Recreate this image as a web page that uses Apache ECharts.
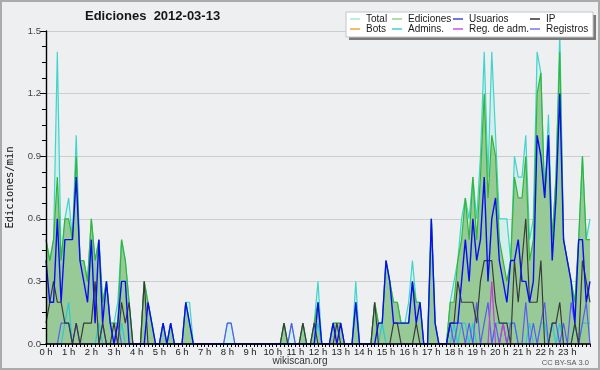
<!DOCTYPE html>
<html><head><meta charset="utf-8">
<script src="https://cdn.jsdelivr.net/npm/echarts@6/dist/echarts.min.js"></script>
<style>html,body{margin:0;padding:0;background:#eeeff1}#c{width:600px;height:370px}</style>
</head><body><div id="c"></div>
<script>
// 10-minute slots from 00:00 to 24:00 (145 points)
const hourLabels = ['0 h','1 h','2 h','3 h','4 h','5 h','6 h','7 h','8 h','9 h','10 h','11 h','12 h','13 h','14 h','15 h','16 h','17 h','18 h','19 h','20 h','21 h','22 h','23 h'];
const slots = [];
for (let h = 0; h <= 24; h++) for (let m = 0; m < 60; m += 10) { if (h === 24 && m > 0) break; slots.push((h < 10 ? '0' : '') + h + ':' + (m === 0 ? '00' : m)); }
const yTicks = [0, 0.3, 0.6, 0.9, 1.2, 1.5];

const total = [
 .5,.4,.5,1.4,.4,.6,.7,.5,1.0,.4,.4,.3,
 .6,.4,.5,.2,.3,.1,.1,.2,.5,.4,.2,0,
 0,0,.3,.2,.1,0,0,.1,0,.1,0,0,
 0,.2,.2,0,0,0,0,0,0,0,0,0,
 .1,.1,0,0,0,0,0,0,0,0,0,0,
 0,0,0,.1,0,.1,0,0,.1,0,0,.1,
 .3,0,0,0,.1,.1,.1,0,0,0,.3,0,
 0,0,0,.2,.1,.1,.4,.3,.2,.2,.1,.1,
 .2,.4,.2,.2,0,0,.6,.1,0,0,0,.2,
 .3,.4,.6,.7,.6,.8,.6,.9,1.4,.8,1.4,1.0,
 .6,.6,.6,.4,.9,.8,.8,1.0,.5,.6,1.4,1.3,
 .7,1.1,.5,.8,1.5,.5,.4,.3,.2,.5,.9,.5,
 .6];
const edits = [
 .5,.4,.5,.8,.4,.6,.6,.5,.9,.4,.4,.3,
 .6,.4,.5,.2,.3,.1,.1,.1,.5,.4,.2,0,
 0,0,.3,.2,.1,0,0,.1,0,.1,0,0,
 0,.2,.1,0,0,0,0,0,0,0,0,0,
 0,0,0,0,0,0,0,0,0,0,0,0,
 0,0,0,.1,0,0,0,0,.1,0,0,.1,
 .2,0,0,0,.1,.1,.1,0,0,0,.2,0,
 0,0,0,.2,.1,.1,.4,.3,.2,.2,.1,.1,
 .1,.3,.2,.2,0,0,.6,.1,0,0,0,.2,
 .2,.4,.5,.7,.5,.8,.5,.8,1.2,.7,1.0,.9,
 .5,.4,.3,.4,.8,.7,.7,.9,.4,.5,1.2,1.3,
 .7,1.0,.5,.8,1.4,.5,.4,.3,.2,.5,.9,.5,
 .5];
const users = [
 .4,.2,.2,.6,.2,.5,.5,.5,.8,.4,.3,.2,
 .5,.1,.5,.1,.3,.1,0,.1,.3,.3,0,0,
 0,0,0,.2,.1,0,0,.1,0,.1,0,0,
 0,.2,.1,0,0,0,0,0,0,0,0,0,
 0,0,0,0,0,0,0,0,0,0,0,0,
 0,0,0,0,0,0,0,0,0,0,0,0,
 .2,0,0,0,.1,0,.1,0,0,0,.2,0,
 0,0,0,0,.1,.1,.4,.3,.1,.1,.1,.1,
 .1,.3,.1,.2,0,0,.6,.1,0,0,0,.1,
 .1,.1,.3,.5,.3,.6,.4,.5,.8,.3,.6,.7,
 .4,.3,.2,.4,.4,.5,.3,.3,.2,.3,1.0,.9,
 .7,1.0,.4,.7,1.2,.5,.4,.3,.1,.5,.5,.2,
 .3];
const ip = [
 .1,.2,.3,.2,.2,.1,.1,0,.1,0,.1,.1,
 .1,.3,0,.1,0,0,.1,0,.2,.1,.2,0,
 0,0,.3,0,0,0,0,0,0,0,0,0,
 0,0,0,0,0,0,0,0,0,0,0,0,
 0,0,0,0,0,0,0,0,0,0,0,0,
 0,0,0,.1,0,0,0,0,.1,0,0,.1,
 0,0,0,0,0,.1,0,0,0,0,0,0,
 0,0,0,.2,0,0,0,0,.1,.1,0,0,
 0,0,.1,0,0,0,0,0,0,0,0,.1,
 .1,.3,.2,.2,.2,.2,.1,.3,.4,.4,.4,.2,
 .1,.1,.1,0,.4,.2,.4,.6,.2,.2,.2,.4,
 0,0,.1,.1,.2,0,0,0,.1,0,.4,.3,
 .2];
const bots = [
 0,0,0,0,0,0,0,0,0,0,0,0, 0,0,0,0,0,0,0,0,0,0,0,0,
 0,0,0,0,0,0,0,0,0,0,0,0, 0,0,0,0,0,0,0,0,0,0,0,0,
 0,0,0,0,0,0,0,0,0,0,0,0, 0,0,0,0,0,0,0,0,0,0,0,0,
 0,0,0,0,0,0,0,0,0,0,0,0, 0,0,0,0,0,0,0,0,0,0,0,0,
 0,0,0,0,0,0,0,0,0,0,0,0, 0,0,0,0,0,0,0,0,0,0,0,0,
 0,0,0,0,0,0,0,0,0,0,0,0, 0,0,0,0,0,0,0,0,0,0,0,0,
 0];
const admins = [
 0,0,0,0,0,.1,.2,0,0,0,0,0,
 0,0,.1,0,0,0,0,0,.1,0,0,0,
 0,0,0,0,0,0,0,0,0,0,0,0,
 0,0,0,0,0,0,0,0,0,0,0,0,
 0,0,0,0,0,0,0,0,0,0,0,0,
 0,0,0,0,0,0,0,0,0,0,0,0,
 .1,0,0,0,0,0,0,0,0,0,0,0,
 0,0,0,0,0,.1,0,0,0,0,0,0,
 0,0,0,0,0,0,0,0,0,0,0,0,
 .1,0,.1,.1,0,.1,0,0,0,0,0,.1,
 .1,.1,.1,.1,.1,0,0,0,.1,0,0,.1,
 .1,0,.1,0,.1,0,0,0,.1,0,.1,.1,
 .1];
const regAdm = [
 0,0,0,0,0,0,0,0,0,0,0,0, 0,0,0,0,0,0,0,0,0,0,0,0,
 0,0,0,0,0,0,0,0,0,0,0,0, 0,0,0,0,0,0,0,0,0,0,0,0,
 0,0,0,0,0,0,0,0,0,0,0,0, 0,0,0,0,0,0,0,0,0,0,0,0,
 0,0,0,0,0,0,0,0,0,0,0,0, 0,0,0,0,0,0,0,0,0,0,0,0,
 0,0,0,0,0,0,0,0,0,0,0,0,
 0,0,0,0,0,0,0,0,0,0,.3,0,
 0,.1,0,0,0,0,0,0,0,0,0,0,
 0,0,0,0,0,0,0,0,0,0,0,0,
 0];
const registros = [
 0,0,0,0,.1,.1,.1,0,.1,0,0,0,
 0,0,0,.1,0,0,0,.1,0,0,0,0,
 0,0,0,0,0,0,0,0,0,0,0,0,
 0,0,0,0,0,0,0,0,0,0,0,0,
 .1,.1,0,0,0,0,0,0,0,0,0,0,
 0,0,0,0,0,.1,0,0,0,0,0,0,
 0,0,0,0,0,0,0,0,0,0,0,0,
 0,0,0,0,0,0,0,0,0,0,0,0,
 0,0,0,0,0,0,0,0,0,0,0,.1,
 0,.1,.1,0,.1,0,.2,0,.1,.2,0,.1,
 0,.1,0,.1,.1,0,0,.2,0,.1,0,.1,
 .2,0,.1,.1,0,.1,0,.2,.1,0,.1,.2,
 0];

const FONT = 'Liberation Sans, Arial, sans-serif';
function line(name, data, color, width, extra) {
  return Object.assign({
    name: name, type: 'line', data: data, symbol: 'none', showSymbol: false,
    animation: false, lineStyle: { color: color, width: width }, itemStyle: { color: color },
    emphasis: { disabled: true }, silent: true
  }, extra || {});
}

const legendItems = [
  ['Total', '#a6e6e0', 350, 0], ['Ediciones', '#8fd68f', 392, 0], ['Usuarios', '#4444e6', 453, 0], ['IP', '#333333', 530, 0],
  ['Bots', '#f4a440', 350, 1], ['Admins.', '#40d0d8', 392, 1], ['Reg. de adm.', '#d050e4', 453, 1], ['Registros', '#7777f0', 530, 1]
];

const chart = echarts.init(document.getElementById('c'), null, { renderer: 'canvas' });
chart.setOption({
  backgroundColor: '#eeeff1',
  animation: false,
  textStyle: { fontFamily: FONT },
  title: {
    text: 'Ediciones  2012-03-13', left: 85, top: 10, padding: 0,
    textStyle: { fontSize: 13, fontWeight: 'bold', color: '#161616', fontFamily: FONT }
  },
  grid: { left: 46, right: 10, top: 31, bottom: 26, containLabel: false, outerBoundsMode: 'none' },
  xAxis: {
    type: 'category', data: slots, boundaryGap: false, z: 10,
    axisLine: { show: true, lineStyle: { color: '#000', width: 1.6 } },
    axisTick: { show: true, interval: 0, length: 3, lineStyle: { color: '#000', width: 1 } },
    axisLabel: {
      interval: function (idx) { return idx % 6 === 0 && idx / 6 < hourLabels.length; },
      formatter: function (v, idx) { return hourLabels[idx / 6]; },
      margin: 3, fontSize: 9.5, color: '#222', fontFamily: FONT
    },
    splitLine: { show: false }
  },
  yAxis: [
    { type: 'value', min: 0, max: 1.5, interval: 0.3, position: 'left',
      splitLine: { show: true, lineStyle: { color: '#cdcdcd', width: 1 } },
      axisLine: { show: false }, axisTick: { show: false }, axisLabel: { show: false } },
    { type: 'value', min: 0, max: 1.5, interval: 0.3, position: 'left', z: 10,
      splitLine: { show: false },
      axisLine: { show: true, onZero: false, lineStyle: { color: '#000', width: 1.4 } },
      axisTick: { show: true, length: 6, lineStyle: { color: '#000', width: 1 } },
      minorTick: { show: true, splitNumber: 4, length: 4, lineStyle: { color: '#000', width: 1 } },
      axisLabel: { formatter: function (v) { return yTicks.indexOf(v) >= 0 ? v.toFixed(1) : ''; }, margin: 5, fontSize: 9.5, color: '#444', fontFamily: FONT },
      name: 'Ediciones/min', nameLocation: 'middle', nameGap: 30, nameRotate: 90,
      nameTextStyle: { fontFamily: 'DejaVu Sans Mono, monospace', fontSize: 10.5, color: '#111' } }
  ],
  legend: legendItems.map(function (it) {
    return {
      data: [{ name: it[0], icon: 'rect', itemStyle: { color: it[1], borderWidth: 0 }, lineStyle: { width: 0 } }],
      left: it[2], top: it[3] === 0 ? 13.5 : 23.5, padding: 0, z: 12,
      icon: 'rect', itemWidth: 10, itemHeight: 1.5, selectedMode: false,
      textStyle: { fontSize: 10, lineHeight: 11, color: '#1a1a1a', fontFamily: FONT, padding: [0, 0, 0, 1] }
    };
  }),
  graphic: [
    { type: 'rect', z: 11, silent: true, shape: { x: 349, y: 15, width: 247, height: 25 }, style: { fill: '#7a7a7a' } },
    { type: 'rect', z: 11, silent: true, shape: { x: 346, y: 12, width: 247, height: 25 }, style: { fill: '#ffffff', stroke: '#c4c4c4', lineWidth: 1 } },
    { type: 'text', z: 11, silent: true, left: 'center', top: 356, style: { text: 'wikiscan.org', fontSize: 10, fill: '#333', fontFamily: FONT } },
    { type: 'text', z: 11, silent: true, right: 11, top: 359, style: { text: 'CC BY-SA 3.0', fontSize: 7.5, fill: '#555', fontFamily: FONT } },
    { type: 'rect', z: 20, silent: true, shape: { x: 1, y: 1, width: 598, height: 368 }, style: { fill: 'none', stroke: '#ababab', lineWidth: 2 } }
  ],
  series: [
    line('Total', total, '#3fd4cc', 1.2, { areaStyle: { color: '#d4eeeb', opacity: 1 } }),
    line('Ediciones', edits, '#34b634', 1.2, { areaStyle: { color: '#97ca97', opacity: 1 } }),
    line('Bots', bots, '#f4a440', 1),
    line('Admins.', admins, '#2cc8d4', 1.2),
    line('Registros', registros, '#5a5af2', 1.2),
    line('Reg. de adm.', regAdm, '#c040d8', 1.2),
    line('IP', ip, '#3a3a3a', 1.2),
    line('Usuarios', users, '#0c0cf0', 1.4)
  ]
});
</script>
</body></html>
